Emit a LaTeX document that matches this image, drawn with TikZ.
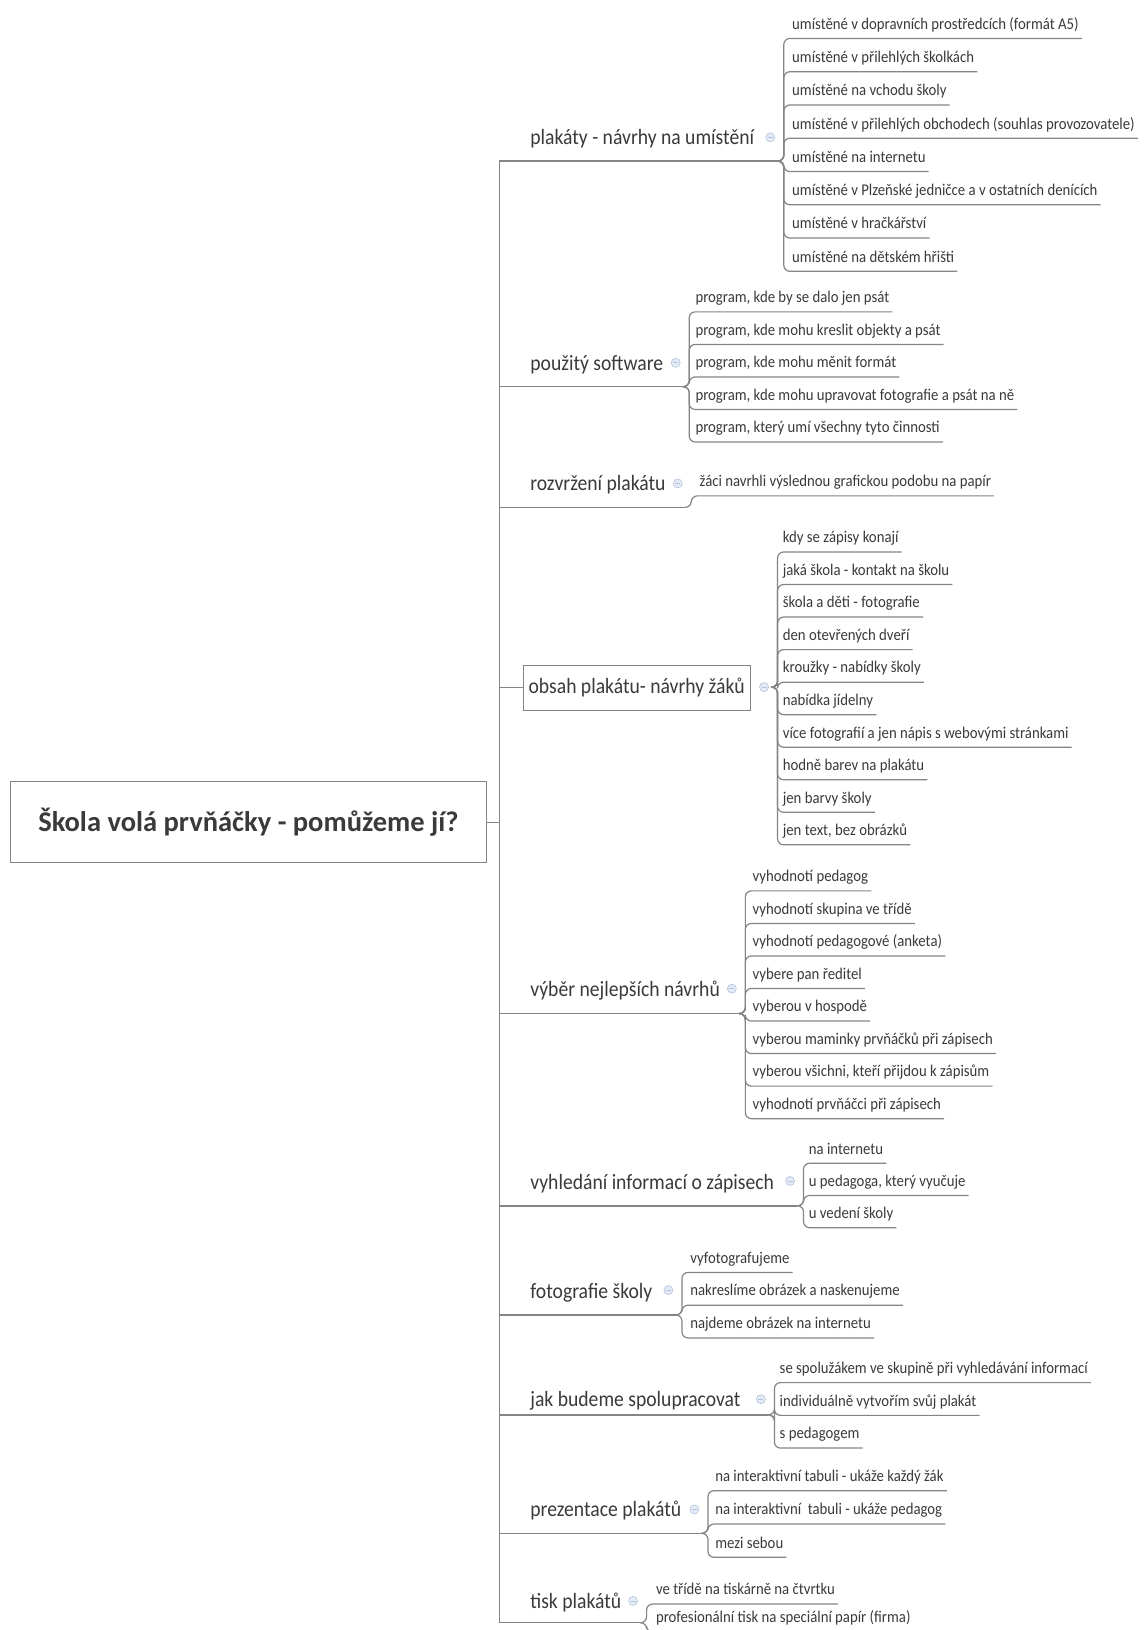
\documentclass[tikz,border=0pt]{standalone}
\usepackage{fontspec}
\setmainfont{Carlito}
\newfontfamily\narrowfam[FakeStretch=0.9]{Carlito}
\usetikzlibrary{positioning}

\definecolor{inkgray}{HTML}{3A3A3A}
\definecolor{linegray}{HTML}{858585}
\definecolor{knobfill}{HTML}{E4EBF6}
\definecolor{knobline}{HTML}{B4C4DE}

\newcommand\rootfont{\fontsize{28.5}{32}\selectfont\bfseries}
\newcommand\branchfont{\narrowfam\fontsize{21.8}{24}\selectfont}
\newcommand\leaffont{\narrowfam\fontsize{16.4}{19}\selectfont}

\tikzset{
  rootbox/.style={draw=linegray, line width=1pt, fill=white, text=inkgray, font=\rootfont,
    minimum width=476pt, minimum height=81pt},
  framed/.style={draw=linegray, line width=1pt, text=inkgray, font=\branchfont,
    minimum width=227pt, minimum height=45pt},
  branch/.style={text=inkgray, font=\branchfont, inner sep=0pt, anchor=base west},
  leaf/.style={text=inkgray, font=\leaffont, inner xsep=3pt, inner ysep=0pt,
    text depth=9pt, anchor=south west},
  knob/.style={circle, fill=knobfill, draw=knobline, line width=0.6pt, minimum size=9pt,
    inner sep=0pt, path picture={\draw[knobline, line width=0.8pt]
      ([xshift=-2.5pt]path picture bounding box.center) --
      ([xshift=2.5pt]path picture bounding box.center);}},
  trunk/.style={draw=linegray, line width=1.4pt},
  link/.style={draw=linegray, line width=1.2pt, rounded corners=6pt},
}

\begin{document}
\begin{tikzpicture}[x=1.0391pt, y=-1.0391pt]
  \useasboundingbox[fill=white] (0,0) rectangle (1100,1568);

  \node[rootbox] (root) at (239,791) {Škola volá prvňáčky - pomůžeme jí?};

  % plakaty
  \node[branch] (b1) at (510,139) {plakáty - návrhy na umístění};
  \node[knob] (i1) at (741,132) {};
  \coordinate (j1) at (748,155);
  \draw[trunk] (root.east) -- ++(12,0) |- (j1);
  \foreach \t [count=\k] in {umístěné v dopravních prostředcích (formát A5),
      umístěné v přilehlých školkách, umístěné na vchodu školy,
      umístěné v přilehlých obchodech (souhlas provozovatele),
      umístěné na internetu, umístěné v Plzeňské jedničce a v ostatních denících,
      umístěné v hračkářství, umístěné na dětském hřišti} {
    \node[leaf] (c1-\k) at (759,37+32*\k-32) {\t};
    \draw[link] (j1) -- ++(6,0) |- (c1-\k.south east);
  }

  % software
  \node[branch] (b2) at (510,356) {použitý software};
  \node[knob] (i2) at (650,349) {};
  \coordinate (j2) at (657,372);
  \draw[trunk] (root.east) -- ++(12,0) |- (j2);
  \foreach \t [count=\k] in {{program, kde by se dalo jen psát},
      {program, kde mohu kreslit objekty a psát}, {program, kde mohu měnit formát},
      {program, kde mohu upravovat fotografie a psát na ně},
      {program, který umí všechny tyto činnosti}} {
    \node[leaf] (c2-\k) at (666,300+31.3*\k-31.3) {\t};
    \draw[link] (j2) -- ++(6,0) |- (c2-\k.south east);
  }

  % rozvrzeni
  \node[branch] (b3) at (510,472) {rozvržení plakátu};
  \node[knob] (i3) at (652,465) {};
  \coordinate (j3) at (659,488);
  \draw[trunk] (root.east) -- ++(12,0) |- (j3);
  \node[leaf] (c3-1) at (670,477) {žáci navrhli výslednou grafickou podobu na papír};
  \draw[link] (j3) -- ++(6,0) |- (c3-1.south east);

  % obsah
  \node[framed] (b4) at (612.5,661.5) {obsah plakátu- návrhy žáků};
  \node[knob] (i4) at (735,661) {};
  \coordinate (j4) at (742,661);
  \draw[trunk] (root.east) -- ++(12,0) |- (b4.west);
  \foreach \t [count=\k] in {kdy se zápisy konají, jaká škola - kontakt na školu,
      škola a děti - fotografie, den otevřených dveří, kroužky - nabídky školy,
      nabídka jídelny, více fotografií a jen nápis s webovými stránkami,
      hodně barev na plakátu, jen barvy školy, {jen text, bez obrázků}} {
    \node[leaf] (c4-\k) at (750,531+31.3*\k-31.3) {\t};
    \draw[link] (j4) -- ++(6,0) |- (c4-\k.south east);
  }

  % vyber
  \node[branch] (b5) at (510,959) {výběr nejlepších návrhů};
  \node[knob] (i5) at (704,951) {};
  \coordinate (j5) at (711,975);
  \draw[trunk] (root.east) -- ++(12,0) |- (j5);
  \foreach \t [count=\k] in {vyhodnotí pedagog, vyhodnotí skupina ve třídě,
      vyhodnotí pedagogové (anketa), vybere pan ředitel, vyberou v hospodě,
      vyberou maminky prvňáčků při zápisech, {vyberou všichni, kteří přijdou k zápisům},
      vyhodnotí prvňáčci při zápisech} {
    \node[leaf] (c5-\k) at (721,857+31.3*\k-31.3) {\t};
    \draw[link] (j5) -- ++(6,0) |- (c5-\k.south east);
  }

  % vyhledani
  \node[branch] (b6) at (510,1144) {vyhledání informací o zápisech};
  \node[knob] (i6) at (760,1136) {};
  \coordinate (j6) at (767,1160);
  \draw[trunk] (root.east) -- ++(12,0) |- (j6);
  \foreach \t [count=\k] in {na internetu, {u pedagoga, který vyučuje}, u vedení školy} {
    \node[leaf] (c6-\k) at (775,1119+31*\k-31) {\t};
    \draw[link] (j6) -- ++(6,0) |- (c6-\k.south east);
  }

  % fotografie
  \node[branch] (b7) at (510,1249) {fotografie školy};
  \node[knob] (i7) at (643,1241) {};
  \coordinate (j7) at (650,1265);
  \draw[trunk] (root.east) -- ++(12,0) |- (j7);
  \foreach \t [count=\k] in {vyfotografujeme, nakreslíme obrázek a naskenujeme,
      najdeme obrázek na internetu} {
    \node[leaf] (c7-\k) at (661,1224+31.5*\k-31.5) {\t};
    \draw[link] (j7) -- ++(6,0) |- (c7-\k.south east);
  }

  % spoluprace
  \node[branch] (b8) at (510,1353) {jak budeme spolupracovat};
  \node[knob] (i8) at (732,1346) {};
  \coordinate (j8) at (739,1361);
  \draw[trunk] (root.east) -- ++(12,0) |- (j8);
  \foreach \t [count=\k] in {se spolužákem ve skupině při vyhledávání informací,
      individuálně vytvořím svůj plakát, s pedagogem} {
    \node[leaf] (c8-\k) at (747,1330+31.5*\k-31.5) {\t};
    \draw[link] (j8) -- ++(6,0) |- (c8-\k.south east);
  }

  % prezentace
  \node[branch] (b9) at (510,1459) {prezentace plakátů};
  \node[knob] (i9) at (668,1452) {};
  \coordinate (j9) at (675,1475);
  \draw[trunk] (root.east) -- ++(12,0) |- (j9);
  \foreach \t [count=\k] in {na interaktivní tabuli - ukáže každý žák,
      na interaktivní\ \ tabuli - ukáže pedagog, mezi sebou} {
    \node[leaf] (c9-\k) at (685,1434+32*\k-32) {\t};
    \draw[link] (j9) -- ++(6,0) |- (c9-\k.south east);
  }

  % tisk
  \node[branch] (b10) at (510,1547) {tisk plakátů};
  \node[knob] (i10) at (609,1540) {};
  \coordinate (j10) at (616,1561);
  \draw[trunk] (root.east) -- ++(12,0) |- (j10);
  \foreach \t [count=\k] in {ve třídě na tiskárně na čtvrtku,
      profesionální tisk na speciální papír (firma)} {
    \node[leaf] (c10-\k) at (628,1543+27*\k-27) {\t};
    \draw[link] (j10) -- ++(6,0) |- (c10-\k.south east);
  }
\end{tikzpicture}
\end{document}
